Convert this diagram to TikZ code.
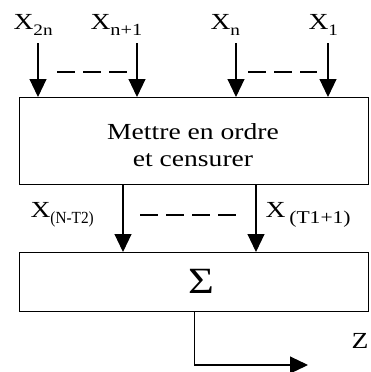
\documentclass[tikz,border=0pt]{standalone}
\usepackage{fontspec}
\setmainfont[FakeStretch=1.2]{Liberation Serif}
\usetikzlibrary{arrows.meta}
\newcommand{\subtxt}[2][16]{\raisebox{-6pt}{\fontsize{#1}{#1}\selectfont #2}}

\begin{document}
\begin{tikzpicture}[x=1pt,y=-1pt,line width=1.1pt,
  lbl/.style={font=\fontsize{23}{23}\selectfont,inner sep=0pt,anchor=base west},
  blk/.style={draw,line width=1.3pt,inner sep=0pt,anchor=north west},
  flow/.style={line width=1.1pt,-{Triangle[length=18pt,width=17pt]}},
  dots/.style={line width=1.1pt,dash pattern=on 18pt off 8pt}]
  \useasboundingbox (0,0) rectangle (370,372);

  % --- blocks ---
  \node[blk,minimum width=349pt,minimum height=87pt] (sort) at (19,97) {};
  \node[align=center,font=\fontsize{23}{27}\selectfont] (sorttxt) at (193,145) {Mettre en ordre\\et censurer};
  \node[blk,minimum width=349pt,minimum height=59pt] (sum) at (19,252) {};
  \node[font=\fontsize{37}{37}\selectfont,inner sep=0pt] (sigma) at (201,281) {Σ};

  % --- inputs ---
  \node[lbl] (x2n) at (13,29) {X\subtxt{2n}};
  \node[lbl] (xn1) at (90,29) {X\subtxt[17]{n+1}};
  \node[lbl] (xn) at (210,29) {X\subtxt{n}};
  \node[lbl] (x1) at (308,29) {X\subtxt{1}};

  \coordinate (i1) at (38,43);
  \coordinate (i2) at (137,43);
  \coordinate (i3) at (236,43);
  \coordinate (i4) at (328,43);
  \draw[flow] (i1) -- (i1 |- sort.north);
  \draw[flow] (i2) -- (i2 |- sort.north);
  \draw[flow] (i3) -- (i3 |- sort.north);
  \draw[flow] (i4) -- (i4 |- sort.north);
  \draw[dots] (57,72) -- (127,72);
  \draw[dots] (248,72) -- (317,72);

  % --- ordered outputs ---
  \coordinate (m1) at (123,0);
  \coordinate (m2) at (256,0);
  \draw[flow] (sort.south -| m1) -- (sum.north -| m1);
  \draw[flow] (sort.south -| m2) -- (sum.north -| m2);
  \draw[dots] (140,215) -- (242,215);
  \node[lbl] (xnt) at (30,217) {X\scalebox{0.75}[1]{\subtxt[17]{(N-T2)}}};
  \node[lbl] (xt1) at (265,217) {X\,\subtxt[18]{(T1+1)}};

  % --- result ---
  \coordinate (zout) at (308,365);
  \draw[flow] (sum.south) |- (zout);
  \node[lbl] (z) at (351,348) {Z};
\end{tikzpicture}
\end{document}
